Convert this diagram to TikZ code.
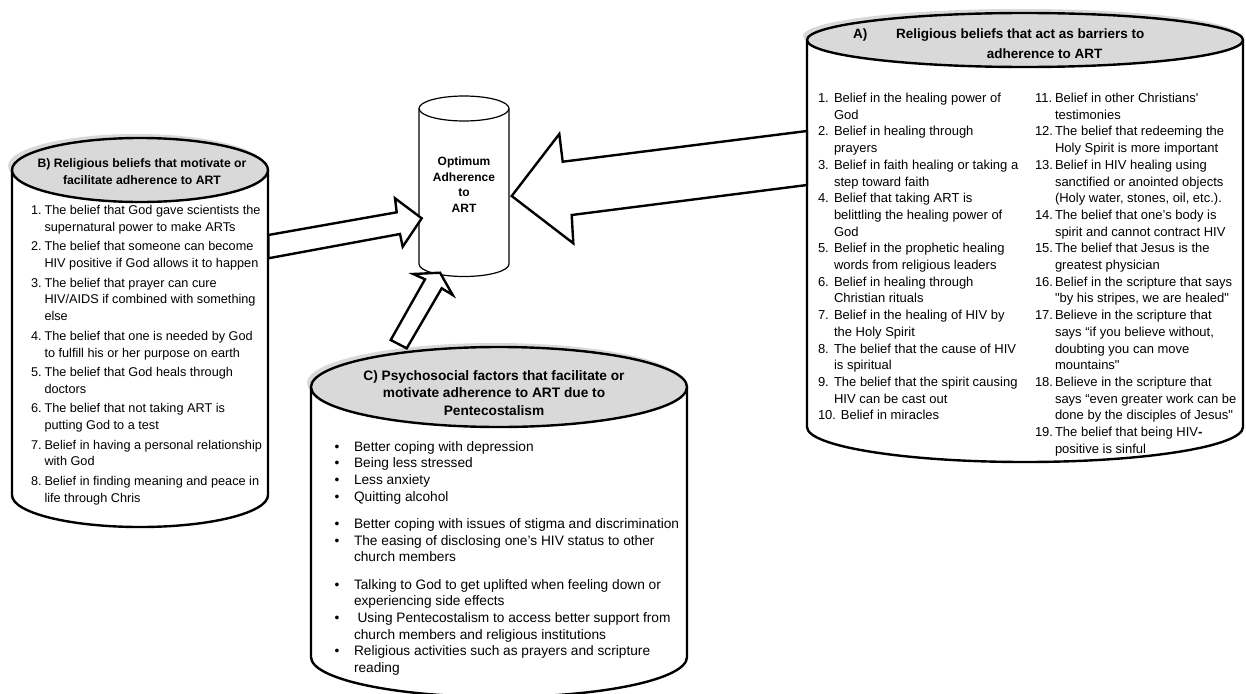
\documentclass[tikz,border=0pt]{standalone}
\usepackage{fontspec}
\setmainfont{Liberation Sans}[Ligatures=TeXOff]
\usepackage{array}
\definecolor{capgray}{RGB}{217,217,217}
\newcommand\fsA{\fontsize{13}{16.7}\selectfont}
\newcommand\fsB{\fontsize{12.7}{16.8}\selectfont}
\newcommand\fsC{\fontsize{13.7}{16.7}\selectfont}
\newcommand\ftA{\fontsize{13.5}{20}\selectfont\bfseries}
\newcommand\ftB{\fontsize{12.25}{17}\selectfont\bfseries}
\newcommand\ftC{\fontsize{13.7}{17.5}\selectfont\bfseries}
\newcommand\ftO{\fontsize{12}{15.7}\selectfont\bfseries}
\tikzset{
  canline/.style={line width=2.4pt, line join=round},
  thincan/.style={line width=1.2pt, line join=round},
  blockarrow/.style={draw, fill=white, line width=2.4pt, line join=miter, miter limit=12},
  txt/.style={inner sep=0pt, outer sep=0pt},
}
% name, cx, cytop, cybot, rx, rytop, rybot
\newcommand\cancyl[7]{%
  \fill[capgray] (#2-4,#3-4) ellipse[x radius=#5, y radius=#6];
  \filldraw[fill=white, canline] (#2-#5,#3) -- (#2-#5,#4)
     arc[start angle=180, end angle=0, x radius=#5, y radius=#7] -- (#2+#5,#3);
  \filldraw[fill=capgray, canline] (#2,#3) ellipse[x radius=#5, y radius=#6];
  \coordinate (#1) at (#2,#3);
}
\begin{document}
\begin{tikzpicture}[x=1pt,y=-1pt]
\useasboundingbox (0,0) rectangle (1246,693);

% ---------- cylinders ----------
\cancyl{canA}{1025}{40}{427}{218}{27}{35}
\cancyl{canB}{140}{170}{495}{128}{32}{32}
\cancyl{canC}{499}{387}{657}{188}{40}{40}

% centre cylinder
\filldraw[fill=white, thincan] (419,108.5) -- (419,264)
   arc[start angle=180, end angle=0, x radius=45, y radius=12.5] -- (509,108.5);
\filldraw[fill=white, thincan] (464,108.5) ellipse[x radius=45, y radius=12.5];
\coordinate (canO) at (464,108.5);

% ---------- block arrows ----------
\draw[blockarrow] (807,131) -- (562.7,161.7) -- (559.3,134) -- (511.7,196)
   -- (573.3,243.3) -- (571.7,215) -- (807,185) -- cycle;
\draw[blockarrow] (268.3,235) -- (396.7,212.3) -- (395,198.3) -- (421.7,218.3)
   -- (402.7,246.7) -- (400,234) -- (268.3,258.3) -- cycle;
\draw[blockarrow] (390.7,340) -- (425,279.3) -- (413.3,274) -- (440,272.7)
   -- (452.7,295) -- (441.7,288.3) -- (406.7,348.3) -- cycle;

% ---------- centre text ----------
\node[txt, font=\ftO, anchor=base] (optT) at (464,165.5)
  {\begin{tabular}[t]{@{}c@{}}Optimum\\Adherence\\to\\ART\end{tabular}};

% ---------- A ----------
\node[txt, font=\ftA, anchor=base west] (aTa) at (853,39) {A)};
\node[txt, font=\ftA, anchor=base west] (aTb) at (896,39) {Religious beliefs that act as barriers to};
\node[txt, font=\ftA, anchor=base] (aTc) at (1044.5,59) {adherence to ART};

\node[txt, font=\fsA, anchor=base west] (aL) at (818,102.5) {%
\begin{tabular}[t]{@{}p{16pt}@{}l@{}}
1. & Belief in the healing power of\\
   & God\\
2. & Belief in healing through\\
   & prayers\\
3. & Belief in faith healing or taking a\\
   & step toward faith\\
4. & Belief that taking ART is\\
   & belittling the healing power of\\
   & God\\
5. & Belief in the prophetic healing\\
   & words from religious leaders\\
6. & Belief in healing through\\
   & Christian rituals\\
7. & Belief in the healing of HIV by\\
   & the Holy Spirit\\
8. & The belief that the cause of HIV\\
   & is spiritual\\
9. & The belief that the spirit causing\\
   & HIV can be cast out\\
\multicolumn{2}{@{}l@{}}{10. Belief in miracles}
\end{tabular}};

\node[txt, font=\fsA, anchor=base west] (aR) at (1035,102.5) {%
\begin{tabular}[t]{@{}p{20pt}@{}l@{}}
11. & Belief in other Christians'\\
    & testimonies\\
12. & The belief that redeeming the\\
    & Holy Spirit is more important\\
13. & Belief in HIV healing using\\
    & sanctified or anointed objects\\
    & (Holy water, stones, oil, etc.).\\
14. & The belief that one’s body is\\
    & spirit and cannot contract HIV\\
15. & The belief that Jesus is the\\
    & greatest physician\\
16. & Belief in the scripture that says\\
    & "by his stripes, we are healed"\\
17. & Believe in the scripture that\\
    & says “if you believe without,\\
    & doubting you can move\\
    & mountains"\\
18. & Believe in the scripture that\\
    & says “even greater work can be\\
    & done by the disciples of Jesus"\\
19. & The belief that being HIV\textbf{-}\\
    & positive is sinful
\end{tabular}};

% ---------- B ----------
\node[txt, font=\ftB, anchor=base] (bT) at (142,167.5)
  {\begin{tabular}[t]{@{}c@{}}B) Religious beliefs that motivate or\\facilitate adherence to ART\end{tabular}};

\node[txt, font=\fsB, anchor=base west] (bL) at (31,214.5) {%
\begin{tabular}[t]{@{}p{13.5pt}@{}l@{}}
1. & The belief that God gave scientists the\\
   & supernatural power to make ARTs\\[2.7pt]
2. & The belief that someone can become\\
   & HIV positive if God allows it to happen\\[2.7pt]
3. & The belief that prayer can cure\\
   & HIV/AIDS if combined with something\\
   & else\\[2.7pt]
4. & The belief that one is needed by God\\
   & to fulfill his or her purpose on earth\\[2.7pt]
5. & The belief that God heals through\\
   & doctors\\[2.7pt]
6. & The belief that not taking ART is\\
   & putting God to a test\\[2.7pt]
7. & Belief in having a personal relationship\\
   & with God\\[2.7pt]
8. & Belief in finding meaning and peace in\\
   & life through Chris
\end{tabular}};

% ---------- C ----------
\node[txt, font=\ftC, anchor=base] (cT) at (494,380)
  {\begin{tabular}[t]{@{}c@{}}C) Psychosocial factors that facilitate or\\motivate adherence to ART due to\\Pentecostalism\end{tabular}};

\node[txt, font=\fsC, anchor=base west] (cL) at (334.5,451) {%
\begin{tabular}[t]{@{}p{19.5pt}@{}l@{}}
\textbullet & Better coping with depression\\
\textbullet & Being less stressed\\
\textbullet & Less anxiety\\
\textbullet & Quitting alcohol\\[10.6pt]
\textbullet & Better coping with issues of stigma and discrimination\\
\textbullet & The easing of disclosing one’s HIV status to other\\
            & church members\\[10.6pt]
\textbullet & Talking to God to get uplifted when feeling down or\\
            & experiencing side effects\\
\textbullet & \hspace{3.6pt}Using Pentecostalism to access better support from\\
            & church members and religious institutions\\
\textbullet & Religious activities such as prayers and scripture\\
            & reading
\end{tabular}};
\end{tikzpicture}
\end{document}
